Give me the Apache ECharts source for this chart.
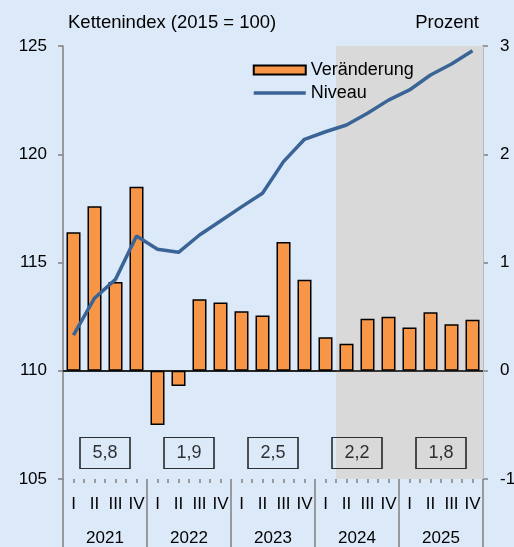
<!DOCTYPE html>
<html>
<head>
<meta charset="utf-8">
<script src="https://cdn.jsdelivr.net/npm/echarts@6/dist/echarts.min.js"></script>
<style>
  html, body { margin: 0; padding: 0; background: #dce9f8; }
  #chart { width: 514px; height: 547px; }
</style>
</head>
<body>
<div id="chart"></div>
<script>
// Jahre und Quartale
var years = ["2021", "2022", "2023", "2024", "2025"];
var quarterNames = ["I", "II", "III", "IV"];
var quarters = [];
years.forEach(function (y) {
  quarterNames.forEach(function (q) { quarters.push(y + " " + q); });
});

// Veränderung gegenüber Vorquartal in Prozent (rechte Achse)
var changeValues = [1.28, 1.52, 0.82, 1.70, -0.50, -0.14, 0.66, 0.63, 0.55, 0.51,
                    1.19, 0.84, 0.31, 0.25, 0.48, 0.50, 0.40, 0.54, 0.43, 0.47];
// Niveau, Kettenindex 2015 = 100 (linke Achse)
var levelValues = [111.65, 113.35, 114.22, 116.22, 115.61, 115.47, 116.27, 116.92, 117.57, 118.2,
                   119.66, 120.69, 121.04, 121.35, 121.89, 122.5, 122.97, 123.66, 124.17, 124.78];
// Jahresveränderung
var annualValues = ["5,8", "1,9", "2,5", "2,2", "1,8"];
// Prognosezeitraum (grau hinterlegt), ab 2024 II
var forecastQuarters = quarters.slice(13);

var axisGray = "#808080";
var font = "Liberation Sans, Arial, sans-serif";
var boxLevel = 106.2;

var halfTicks = [];
for (var i = 0; i < quarters.length * 2; i++) halfTicks.push("");

var myChart = echarts.init(document.getElementById("chart"));
var option = {
  animation: false,
  backgroundColor: "#dce9f8",
  textStyle: { fontFamily: font, color: "#000" },
  title: [
    { text: "Kettenindex (2015 = 100)", left: 63, top: 8,
      textStyle: { fontFamily: font, fontSize: 18.5, fontWeight: "normal", color: "#000" } },
    { text: "Prozent", right: 30, top: 8,
      textStyle: { fontFamily: font, fontSize: 18.5, fontWeight: "normal", color: "#000" } }
  ],
  legend: {
    orient: "vertical",
    left: 247,
    top: 56,
    itemWidth: 52,
    itemHeight: 9,
    itemGap: 5,
    textStyle: { fontFamily: font, fontSize: 18, color: "#000" },
    data: [
      { name: "Veränderung", icon: "rect" },
      { name: "Niveau", itemStyle: { opacity: 0 }, lineStyle: { width: 3.5, color: "#3a6496" } }
    ]
  },
  grid: { left: 63, right: 31, top: 46, bottom: 68, outerBoundsMode: "none" },
  xAxis: [
    {
      type: "category",
      data: quarters,
      position: "bottom",
      axisLine: { show: true, lineStyle: { color: axisGray, width: 1.5 } },
      axisTick: { show: false },
      axisLabel: {
        interval: 0, margin: 17, fontSize: 17, color: "#000", fontFamily: font,
        formatter: function (v) { return v.split(" ")[1]; }
      }
    },
    {
      type: "category",
      data: years,
      position: "bottom",
      axisLine: { show: false },
      axisTick: { show: true, length: 68, lineStyle: { color: axisGray, width: 1.5 } },
      axisLabel: { interval: 0, margin: 51, fontSize: 17, color: "#000", fontFamily: font }
    },
    {
      type: "category",
      data: halfTicks,
      position: "bottom",
      axisLine: { show: false },
      axisTick: { show: true, interval: 0, length: 4, lineStyle: { color: axisGray, width: 1.5 } },
      axisLabel: { show: false }
    }
  ],
  yAxis: [
    {
      type: "value", min: 105, max: 125, interval: 5,
      axisLine: { show: true, lineStyle: { color: axisGray, width: 1.5 } },
      axisTick: { show: true, length: 5, lineStyle: { color: axisGray, width: 1.5 } },
      axisLabel: { margin: 16, fontSize: 17, color: "#000", fontFamily: font },
      splitLine: { show: false }
    },
    {
      type: "value", min: -1, max: 3, interval: 1, position: "right",
      axisLine: { show: true, lineStyle: { color: axisGray, width: 1.5 } },
      axisTick: { show: true, length: 5, lineStyle: { color: axisGray, width: 1.5 } },
      axisLabel: { margin: 17, fontSize: 17, color: "#000", fontFamily: font },
      splitLine: { show: false }
    }
  ],
  series: [
    {
      // graue Prognosefläche
      type: "custom",
      silent: true,
      z: 1,
      xAxisIndex: 0,
      yAxisIndex: 0,
      data: forecastQuarters.map(function (q) { return [q]; }),
      renderItem: function (params, api) {
        var top = api.coord([api.value(0), 125]);
        var bottom = api.coord([api.value(0), 105]);
        var w = api.size([1, 0])[0];
        return {
          type: "rect",
          shape: { x: top[0] - w / 2, y: top[1], width: w + 0.5, height: bottom[1] - top[1] },
          style: { fill: "#d9d9d9" }
        };
      }
    },
    {
      name: "Veränderung",
      type: "bar",
      z: 3,
      xAxisIndex: 0,
      yAxisIndex: 1,
      barWidth: 14,
      data: changeValues,
      itemStyle: { color: "#f79646", borderColor: "#000", borderWidth: 1.5 },
      markLine: {
        silent: true,
        symbol: ["none", "none"],
        label: { show: false },
        lineStyle: { color: "#000", width: 1.5, type: "solid" },
        data: [{ yAxis: 0 }]
      }
    },
    {
      name: "Niveau",
      type: "line",
      z: 4,
      xAxisIndex: 0,
      yAxisIndex: 0,
      data: levelValues,
      symbol: "none",
      lineStyle: { color: "#3a6496", width: 3.5 },
      itemStyle: { color: "#3a6496" }
    },
    {
      // Kästchen mit Jahresveränderung
      name: "Jahr",
      type: "scatter",
      z: 5,
      silent: true,
      xAxisIndex: 1,
      yAxisIndex: 0,
      data: years.map(function (y) { return [y, boxLevel]; }),
      symbol: "rect",
      symbolSize: [50, 31],
      itemStyle: { color: "rgba(0,0,0,0)", borderColor: "#000", borderWidth: 1.3 },
      label: {
        show: true, position: "inside", fontSize: 18, color: "#000", fontFamily: font,
        formatter: function (p) { return annualValues[p.dataIndex]; }
      }
    }
  ]
};
myChart.setOption(option);
</script>
</body>
</html>
